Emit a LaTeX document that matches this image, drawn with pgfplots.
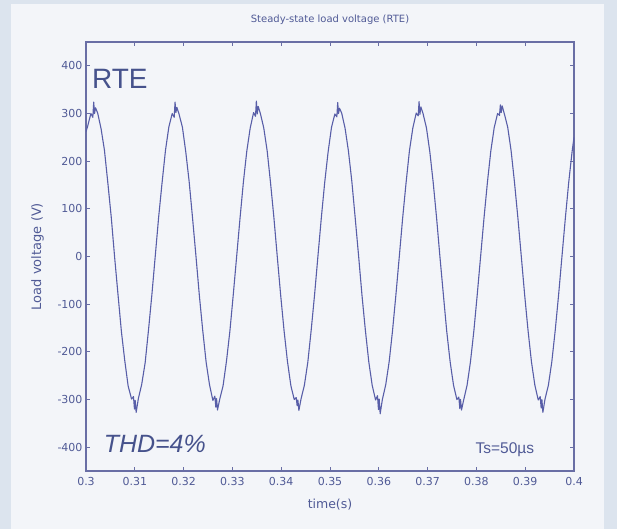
\documentclass[border=0pt]{standalone}
\usepackage{pgfplots}
\pgfplotsset{compat=1.18}
\usepackage{pgfplotstable}
\usepackage{fontspec}
\setmainfont{Liberation Sans}
\newfontfamily\dejavu{DejaVu Sans}

\definecolor{outerbg}{RGB}{220,228,238}
\definecolor{panelbg}{RGB}{243,245,249}
\definecolor{wave}{RGB}{88,94,168}
\definecolor{axiscol}{RGB}{105,110,165}
\definecolor{labcol}{RGB}{80,90,150}
\definecolor{bigtext}{RGB}{70,82,140}

% load voltage
\pgfplotstableread{
t v
0.30000 262
0.30031 272
0.30100 300
0.30140 292
0.30158 324
0.30175 300
0.30195 312
0.30239 301
0.30309 268
0.30378 223
0.30448 154
0.30517 83
0.30587 -2
0.30656 -80
0.30726 -158
0.30795 -219
0.30864 -272
0.30934 -299
0.30973 -294
0.30993 -320
0.31008 -302
0.31028 -327
0.31073 -298
0.31142 -268
0.31212 -223
0.31281 -154
0.31351 -79
0.31420 2
0.31489 83
0.31559 155
0.31628 222
0.31698 272
0.31767 300
0.31807 292
0.31825 324
0.31842 302
0.31862 313
0.31906 299
0.31976 271
0.32045 219
0.32114 157
0.32184 80
0.32253 1
0.32323 -82
0.32392 -155
0.32462 -222
0.32531 -269
0.32600 -302
0.32640 -293
0.32660 -316
0.32675 -298
0.32695 -322
0.32739 -300
0.32809 -271
0.32878 -220
0.32948 -157
0.33017 -81
0.33087 0
0.33156 80
0.33226 157
0.33295 221
0.33364 269
0.33434 302
0.33473 294
0.33491 326
0.33508 299
0.33528 315
0.33573 300
0.33642 270
0.33712 222
0.33781 155
0.33850 82
0.33920 -1
0.33989 -81
0.34059 -156
0.34128 -220
0.34198 -271
0.34267 -300
0.34307 -296
0.34327 -313
0.34342 -301
0.34362 -323
0.34406 -299
0.34475 -270
0.34545 -222
0.34614 -155
0.34684 -80
0.34753 1
0.34823 82
0.34892 156
0.34962 220
0.35031 271
0.35100 299
0.35140 293
0.35158 323
0.35175 300
0.35195 311
0.35239 301
0.35309 269
0.35378 221
0.35448 157
0.35517 80
0.35587 0
0.35656 -82
0.35725 -155
0.35795 -221
0.35864 -270
0.35934 -301
0.35973 -292
0.35993 -321
0.36008 -299
0.36028 -330
0.36073 -300
0.36142 -269
0.36212 -221
0.36281 -156
0.36350 -81
0.36420 0
0.36489 81
0.36559 155
0.36628 222
0.36698 270
0.36767 301
0.36807 295
0.36825 325
0.36842 298
0.36862 314
0.36906 300
0.36976 270
0.37045 220
0.37114 156
0.37184 81
0.37253 -1
0.37323 -80
0.37392 -157
0.37462 -221
0.37531 -270
0.37600 -300
0.37640 -295
0.37660 -319
0.37675 -300
0.37695 -322
0.37739 -301
0.37809 -270
0.37878 -221
0.37948 -156
0.38017 -80
0.38087 1
0.38156 81
0.38226 156
0.38295 221
0.38364 270
0.38434 300
0.38473 296
0.38491 318
0.38508 302
0.38528 316
0.38573 299
0.38642 271
0.38712 221
0.38781 155
0.38850 81
0.38920 0
0.38989 -81
0.39059 -156
0.39128 -221
0.39198 -270
0.39267 -301
0.39307 -294
0.39327 -318
0.39342 -300
0.39362 -327
0.39406 -299
0.39475 -270
0.39545 -221
0.39614 -156
0.39684 -81
0.39753 0
0.39823 81
0.39892 156
0.39962 221
0.40000 250
}\rte

\begin{document}
\begin{tikzpicture}
% backgrounds, 1pt = 1px of the reference
\fill[outerbg] (0pt,0pt) rectangle (617pt,529pt);
\fill[panelbg] (11pt,0pt) rectangle (604pt,525pt);

\begin{axis}[
    at={(86pt,58pt)}, anchor=south west,
    scale only axis,
    width=488pt, height=429pt,
    xmin=0.3, xmax=0.4,
    ymin=-450, ymax=450,
    xtick={0.3,0.31,0.32,0.33,0.34,0.35,0.36,0.37,0.38,0.39,0.4},
    xticklabels={0.3,0.31,0.32,0.33,0.34,0.35,0.36,0.37,0.38,0.39,0.4},
    ytick={-400,-300,-200,-100,0,100,200,300,400},
    tick align=inside,
    major tick length=4pt,
    axis line style={draw=axiscol, line width=1.1pt},
    every tick/.style={axiscol, line width=0.8pt},
    ticklabel style={font=\dejavu\fontsize{11}{12}\selectfont, text=labcol},
    xticklabel style={yshift=-3pt},
    /pgf/number format/assume math mode=true,
    title={Steady-state load voltage (RTE)},
    title style={at={(axis description cs:0.5,1)}, anchor=base, yshift=14pt,
        font=\dejavu\fontsize{10}{11}\selectfont, text=labcol},
    xlabel={time(s)},
    xlabel style={at={(axis description cs:0.5,0)}, anchor=base, yshift=-37pt,
        font=\dejavu\fontsize{12.5}{13}\selectfont, text=labcol},
    ylabel={Load voltage (V)},
    ylabel style={at={(axis description cs:-0.092,0.5)}, anchor=base,
        font=\dejavu\fontsize{13}{14}\selectfont, text=labcol},
    clip=true,
]
\addplot[color=wave, line width=1.1pt, line join=round] table[x=t, y=v] {\rte};

\node[anchor=base west, text=bigtext, font=\fontsize{28}{30}\selectfont, inner sep=0pt]
    at (axis cs:0.3012,352) {RTE};
\node[anchor=base west, text=bigtext, font=\fontsize{25}{27}\selectfont\itshape, inner sep=0pt]
    at (axis cs:0.3036,-412) {THD=4\%};
\node[anchor=base west, text=labcol, font=\fontsize{15.5}{16}\selectfont, inner sep=0pt]
    at (axis cs:0.3798,-414) {Ts=50µs};
\end{axis}
\end{tikzpicture}
\end{document}
